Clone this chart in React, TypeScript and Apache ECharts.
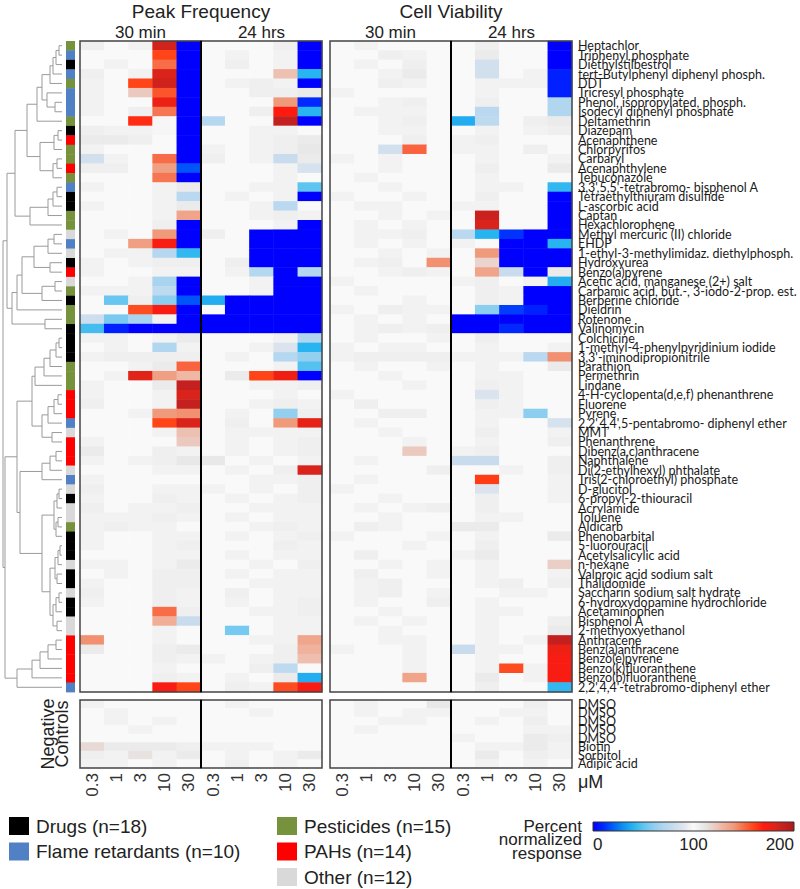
import React, { useEffect, useRef } from 'react';
import * as echarts from 'echarts';

const compounds = [
  'Heptachlor', 'Triphenyl phosphate', 'Diethylstilbestrol', 'tert-Butylphenyl diphenyl phosph.', 'DDT',
  'Tricresyl phosphate', 'Phenol, isopropylated, phosph.', 'Isodecyl diphenyl phosphate', 'Deltamethrin', 'Diazepam',
  'Acenaphthene', 'Chlorpyrifos', 'Carbaryl', 'Acenaphthylene', 'Tebuconazole',
  "3,3',5,5'-tetrabromo- bisphenol A", 'Tetraethylthiuram disulfide', 'L-ascorbic acid', 'Captan', 'Hexachlorophene',
  'Methyl mercuric (II) chloride', 'EHDP', '1-ethyl-3-methylimidaz. diethylphosph.', 'Hydroxyurea', 'Benzo(a)pyrene',
  'Acetic acid, manganese (2+) salt', 'Carbamic acid, but.-, 3-iodo-2-prop. est.', 'Berberine chloride', 'Dieldrin', 'Rotenone',
  'Valinomycin', 'Colchicine', '1-methyl-4-phenylpyridinium iodide', "3,3'-iminodipropionitrile", 'Parathion',
  'Permethrin', 'Lindane', '4-H-cyclopenta(d,e,f) phenanthrene', 'Fluorene', 'Pyrene',
  "2,2',4,4',5-pentabromo- diphenyl ether", 'MMT', 'Phenanthrene', 'Dibenz(a,c)anthracene', 'Naphthalene',
  'Di(2-ethylhexyl) phthalate', 'Tris(2-chloroethyl) phosphate', 'D-glucitol', '6-propyl-2-thiouracil', 'Acrylamide',
  'Toluene', 'Aldicarb', 'Phenobarbital', '5-luorouracil', 'Acetylsalicylic acid',
  'n-hexane', 'Valproic acid sodium salt', 'Thalidomide', 'Saccharin sodium salt hydrate', '6-hydroxydopamine hydrochloride',
  'Acetaminophen', 'Bisphenol A', '2-methyoxyethanol', 'Anthracene', 'Benz(a)anthracene',
  'Benzo(e)pyrene', 'Benzo(k)fluoranthene', 'Benzo(b)fluoranthene', "2,2',4,4'-tetrabromo-diphenyl ether",
];

// D drugs, F flame retardants, P pesticides, A PAHs, O other
const rowCategory = [
  'P', 'F', 'D', 'F', 'P', 'F', 'F', 'F', 'P', 'D',
  'A', 'P', 'P', 'A', 'P', 'F', 'D', 'D', 'P', 'P',
  'O', 'F', 'O', 'D', 'A', 'O', 'P', 'D', 'P', 'P',
  'D', 'D', 'D', 'D', 'P', 'P', 'P', 'A', 'A', 'A',
  'F', 'O', 'A', 'A', 'A', 'O', 'F', 'O', 'D', 'O',
  'O', 'P', 'D', 'D', 'D', 'O', 'D', 'D', 'O', 'D',
  'D', 'O', 'O', 'A', 'A', 'A', 'A', 'A', 'F',
];

const categoryKeys = ['D', 'F', 'P', 'A', 'O'];
const categoryNames = ['Drugs (n=18)', 'Flame retardants (n=10)', 'Pesticides (n=15)', 'PAHs (n=14)', 'Other (n=12)'];
const categoryColors = ['#000000', '#4f81c4', '#76923c', '#ff0000', '#d9d9d9'];

const concentrations = ['0.3', '1', '3', '10', '30'];
const controls = ['DMSO', 'DMSO', 'DMSO', 'DMSO', 'DMSO', 'Biotin', 'Sorbitol', 'Adipic acid'];
const colorbarTicks = [0, 100, 200];

const pf30 = [
  [106, 100, 104, 185, 0], [100, 100, 100, 160, 0], [100, 104, 100, 150, 0], [106, 100, 104, 182, 0], [104, 100, 160, 186, 0],
  [104, 100, 122, 156, 0], [104, 100, 100, 176, 0], [104, 100, 106, 148, 0], [100, 100, 166, 102, 0], [106, 104, 104, 102, 0],
  [108, 108, 106, 100, 0], [104, 100, 100, 100, 0], [84, 104, 100, 150, 0], [106, 106, 100, 138, 18], [100, 100, 100, 148, 0],
  [104, 100, 100, 104, 108], [100, 100, 100, 104, 74], [104, 100, 100, 104, 108], [100, 100, 100, 104, 136], [100, 100, 100, 106, 0],
  [100, 104, 100, 140, 0], [100, 100, 138, 172, 0], [100, 104, 104, 72, 42], [104, 100, 104, 106, 106], [104, 100, 100, 104, 104],
  [100, 100, 104, 68, 0], [104, 104, 104, 76, 0], [100, 52, 106, 60, 18], [100, 100, 158, 172, 0], [82, 56, 68, 104, 0],
  [45, 8, 0, 0, 0], [104, 104, 100, 104, 108], [100, 104, 100, 70, 104], [104, 106, 106, 106, 106], [100, 100, 104, 108, 152],
  [100, 104, 180, 138, 128], [104, 100, 100, 108, 190], [104, 100, 100, 104, 182], [106, 100, 100, 104, 190], [100, 100, 104, 140, 142],
  [100, 100, 100, 160, 182], [100, 100, 100, 104, 125], [104, 100, 100, 100, 122], [108, 100, 100, 106, 104], [104, 100, 104, 106, 110],
  [100, 100, 100, 104, 104], [104, 100, 100, 100, 100], [106, 100, 100, 104, 104], [104, 100, 100, 106, 104], [106, 100, 104, 104, 106],
  [104, 104, 104, 106, 104], [104, 106, 104, 104, 100], [104, 100, 100, 104, 104], [104, 100, 100, 104, 106], [100, 100, 100, 104, 104],
  [104, 104, 100, 104, 108], [100, 104, 100, 106, 106], [104, 100, 100, 106, 106], [106, 100, 100, 106, 104], [104, 100, 100, 106, 104],
  [100, 100, 100, 150, 106], [100, 100, 100, 132, 80], [100, 100, 100, 104, 100], [142, 100, 100, 104, 100], [108, 100, 100, 106, 108],
  [100, 100, 100, 106, 104], [100, 100, 100, 104, 100], [100, 100, 100, 106, 104], [100, 100, 100, 172, 160],
];

const pf24 = [
  [100, 100, 100, 106, 0], [100, 104, 100, 104, 0], [100, 106, 100, 104, 0], [100, 100, 100, 125, 40], [100, 104, 106, 104, 0],
  [100, 100, 106, 106, 108], [100, 100, 100, 140, 10], [100, 100, 106, 170, 40], [72, 100, 100, 190, 0], [100, 100, 104, 104, 100],
  [100, 100, 104, 106, 108], [104, 100, 104, 106, 110], [106, 100, 104, 80, 108], [100, 100, 100, 104, 86], [100, 100, 100, 104, 100],
  [100, 100, 104, 104, 50], [100, 104, 100, 104, 0], [100, 100, 104, 74, 100], [100, 100, 104, 106, 104], [100, 100, 100, 104, 0],
  [106, 100, 0, 0, 0], [100, 100, 0, 0, 0], [100, 100, 0, 0, 0], [100, 106, 0, 0, 0], [100, 104, 72, 0, 72],
  [100, 100, 104, 0, 0], [100, 100, 104, 0, 0], [38, 0, 0, 0, 0], [100, 0, 0, 0, 0], [0, 0, 0, 0, 0],
  [0, 0, 0, 0, 0], [100, 100, 100, 104, 70], [100, 100, 104, 88, 40], [100, 104, 100, 72, 62], [100, 100, 100, 104, 48],
  [100, 108, 160, 175, 0], [100, 100, 104, 104, 106], [100, 100, 100, 104, 100], [100, 100, 104, 106, 104], [100, 104, 100, 62, 106],
  [100, 106, 100, 140, 178], [100, 104, 104, 104, 104], [100, 104, 100, 104, 106], [100, 104, 100, 104, 106], [110, 100, 104, 100, 104],
  [100, 104, 100, 106, 182], [100, 100, 104, 104, 106], [104, 100, 104, 100, 106], [100, 104, 100, 104, 106], [100, 100, 104, 104, 104],
  [100, 104, 100, 104, 104], [100, 100, 104, 106, 104], [100, 104, 100, 104, 106], [100, 100, 100, 106, 104], [100, 104, 100, 104, 104],
  [100, 100, 104, 100, 106], [100, 104, 100, 104, 104], [100, 100, 104, 104, 104], [100, 106, 100, 104, 104], [100, 104, 100, 104, 106],
  [100, 100, 104, 104, 106], [100, 100, 100, 104, 104], [100, 55, 100, 104, 104], [100, 100, 104, 104, 135], [100, 100, 100, 106, 130],
  [104, 100, 104, 106, 126], [100, 100, 106, 76, 100], [100, 104, 100, 108, 38], [100, 106, 104, 158, 172],
];

const cv30 = [
  [100, 104, 100, 100, 100], [100, 100, 106, 104, 100], [100, 104, 100, 106, 100], [100, 100, 104, 108, 100], [100, 100, 106, 104, 100],
  [104, 100, 100, 100, 100], [100, 100, 104, 106, 100], [100, 104, 104, 104, 100], [100, 100, 104, 106, 100], [100, 100, 104, 104, 100],
  [100, 100, 100, 106, 100], [100, 100, 84, 152, 100], [104, 100, 104, 100, 100], [100, 100, 104, 100, 100], [100, 104, 100, 100, 100],
  [100, 100, 104, 100, 100], [104, 100, 100, 104, 100], [100, 104, 104, 100, 100], [100, 100, 104, 100, 104], [100, 104, 100, 104, 100],
  [100, 104, 104, 106, 100], [100, 104, 100, 104, 100], [100, 100, 104, 100, 104], [100, 104, 106, 100, 142], [100, 100, 104, 106, 104],
  [104, 100, 100, 100, 100], [100, 104, 100, 100, 100], [100, 100, 100, 104, 100], [104, 100, 106, 104, 104], [100, 104, 100, 104, 100],
  [100, 104, 106, 104, 106], [100, 104, 100, 100, 104], [104, 100, 104, 104, 100], [104, 106, 106, 106, 106], [100, 104, 100, 100, 104],
  [100, 100, 104, 100, 100], [100, 100, 100, 104, 100], [104, 100, 100, 100, 100], [100, 106, 100, 100, 100], [100, 100, 106, 106, 100],
  [100, 104, 100, 100, 100], [100, 100, 104, 100, 100], [100, 100, 100, 104, 100], [100, 100, 100, 122, 100], [100, 104, 100, 100, 100],
  [100, 100, 100, 100, 106], [100, 104, 100, 100, 100], [104, 100, 100, 100, 100], [100, 100, 104, 100, 100], [100, 104, 100, 104, 106],
  [100, 100, 104, 100, 100], [100, 106, 104, 100, 100], [104, 100, 100, 100, 104], [100, 100, 100, 104, 100], [100, 106, 100, 100, 100],
  [100, 100, 104, 100, 104], [100, 106, 100, 100, 104], [100, 104, 106, 100, 100], [100, 104, 106, 100, 104], [100, 104, 100, 100, 106],
  [100, 100, 104, 100, 100], [100, 104, 100, 104, 100], [100, 100, 104, 100, 100], [100, 100, 104, 104, 100], [104, 100, 100, 104, 100],
  [100, 100, 100, 104, 100], [100, 100, 100, 104, 100], [100, 100, 100, 136, 100], [100, 100, 100, 100, 100],
];

const cv24 = [
  [100, 106, 100, 100, 0], [100, 108, 100, 100, 0], [100, 84, 100, 100, 0], [100, 84, 100, 104, 8], [100, 104, 104, 104, 8],
  [100, 104, 100, 100, 8], [100, 106, 100, 100, 70], [100, 74, 100, 100, 70], [38, 76, 100, 106, 108], [100, 104, 100, 104, 106],
  [104, 106, 100, 100, 100], [104, 104, 100, 106, 100], [100, 104, 100, 100, 104], [100, 106, 100, 100, 108], [100, 104, 100, 100, 100],
  [100, 104, 104, 100, 42], [100, 106, 100, 100, 0], [104, 104, 100, 100, 0], [100, 188, 100, 100, 0], [100, 182, 100, 100, 0],
  [74, 40, 12, 0, 0], [104, 100, 0, 0, 40], [100, 140, 0, 0, 0], [100, 118, 0, 0, 0], [100, 136, 80, 0, 108],
  [104, 106, 100, 104, 38], [100, 106, 104, 0, 0], [100, 106, 104, 0, 0], [100, 60, 14, 8, 0], [0, 0, 0, 0, 0],
  [0, 0, 10, 0, 0], [100, 106, 100, 100, 100], [100, 104, 100, 100, 104], [104, 104, 104, 74, 142], [100, 104, 100, 100, 108],
  [100, 104, 104, 100, 100], [100, 106, 104, 100, 100], [100, 88, 104, 100, 100], [100, 106, 104, 100, 100], [100, 104, 104, 60, 100],
  [100, 104, 100, 100, 86], [100, 106, 100, 100, 104], [100, 104, 100, 100, 106], [104, 106, 100, 100, 100], [80, 80, 100, 100, 106],
  [100, 100, 104, 100, 106], [100, 162, 100, 100, 104], [100, 88, 100, 100, 104], [100, 106, 100, 100, 104], [100, 106, 100, 100, 100],
  [100, 104, 104, 100, 100], [108, 108, 100, 100, 100], [100, 104, 100, 100, 108], [100, 106, 100, 100, 100], [104, 108, 100, 100, 100],
  [100, 104, 100, 100, 120], [100, 104, 100, 100, 104], [100, 104, 106, 100, 106], [100, 100, 104, 104, 100], [100, 104, 100, 100, 100],
  [100, 104, 104, 100, 100], [100, 104, 100, 100, 106], [100, 104, 100, 100, 108], [100, 104, 100, 104, 190], [80, 104, 104, 100, 176],
  [100, 104, 100, 100, 172], [100, 104, 158, 104, 172], [100, 108, 100, 104, 172], [100, 106, 100, 100, 42],
];

const negPf30 = [
  [104, 100, 100, 100, 100], [100, 104, 100, 100, 100], [100, 104, 100, 104, 100], [100, 100, 104, 100, 100],
  [100, 100, 100, 100, 100], [116, 108, 108, 108, 106], [106, 104, 112, 104, 108], [104, 104, 100, 104, 100],
];
const negPf24 = [
  [100, 104, 100, 100, 100], [100, 100, 104, 100, 100], [100, 100, 100, 100, 100], [100, 100, 100, 100, 100],
  [100, 100, 100, 100, 100], [104, 104, 104, 100, 100], [100, 104, 100, 104, 108], [100, 106, 100, 104, 100],
];
const negCv30 = [
  [100, 104, 100, 100, 110], [100, 104, 100, 104, 104], [100, 100, 104, 104, 100], [100, 104, 100, 100, 100],
  [100, 100, 100, 100, 100], [100, 100, 100, 100, 100], [100, 100, 100, 100, 100], [100, 100, 100, 100, 100],
];
const negCv24 = [
  [100, 100, 100, 106, 100], [100, 100, 104, 104, 100], [100, 104, 100, 106, 100], [100, 100, 100, 104, 104],
  [104, 100, 100, 108, 106], [100, 104, 104, 108, 104], [100, 108, 100, 106, 104], [100, 104, 100, 104, 100],
];

// Dendrogram: [mergeHeight, left, right]; leaves are row indices
const dendrogram: any = [59,
  [55,
    [47,
      [35,
        [25, [20, [12, [9, [6, [3, 0, 1], 2], 3], 4], [15, 5, [7, 6, 7]]], 8],
        [22, [8, [4, 9, 10], 11], [9, [5, 12, 13], 14]]],
      [32, [14, [9, [5, 15, 16], 17], 18], 19]],
    [50,
      [45, [40, [28, [14, [8, 20, 21], 22], [12, 23, 24]], [20, [7, 25, 26], 27]], 28],
      [17, 29, 30]]],
  [57,
    [45,
      [30,
        [27, [18, [12, [6, [3, 31, 32], 33], 34], 35], 36],
        [20, [14, [8, [4, 37, 38], 39], 40], [10, 41, 42]]],
      [42,
        [20, [12, [6, 43, 44], 45], 46],
        [20,
          [8, [5, [3, 47, 48], 49], [6, [4, 50, 51], 52]],
          [12, [7, [4, [2, 53, 54], 55], [5, 56, 57]], [9, [6, [3, 58, 59], 60], [5, 61, 62]]]]]],
    [45, [30, [22, [14, [6, 63, 64], 65], 66], 67], 68]]];

const COLOR_STOPS = [
  '#0000ff', '#0028ff', '#0060f8', '#1090f0', '#28b4f0', '#60c4f0', '#8ccef0', '#b0d6f0', '#c8dcee', '#e0e6ee',
  '#f9f9f9', '#e8e8e8', '#eacfc6', '#f0b29e', '#f09a7c', '#f86c48', '#ff4418', '#ff1a10', '#e02418', '#c42020', '#b01818',
];

const TOP = 41;
const H_TOP = 651;
const NEG_TOP = 700;
const H_NEG = 68;
const SUB_W = 121;
const PANEL_LEFTS = [80, 201, 330, 451];
const SANS = '"Liberation Sans", Arial, sans-serif';
const LABEL_FONT = 'Lato, "Open Sans", sans-serif';

function flattenTree(node: any, out: number[][]): { y: number; h: number } {
  if (typeof node === 'number') return { y: node, h: 0 };
  const l = flattenTree(node[1], out);
  const r = flattenTree(node[2], out);
  out.push([node[0], l.y, r.y, l.h, r.h]);
  return { y: (l.y + r.y) / 2, h: node[0] };
}

function buildOption() {
  const grids: any[] = [];
  const xAxes: any[] = [];
  const yAxes: any[] = [];
  const series: any[] = [];
  const topData = [pf30, pf24, cv30, cv24];
  const negData = [negPf30, negPf24, negCv30, negCv24];

  for (let g = 0; g < 8; g++) {
    const isTop = g < 4;
    const p = g % 4;
    grids.push({ left: PANEL_LEFTS[p], top: isTop ? TOP : NEG_TOP, width: SUB_W, height: isTop ? H_TOP : H_NEG });
    xAxes.push({
      type: 'category', gridIndex: g, data: concentrations,
      axisLine: { show: false }, axisTick: { show: false }, splitLine: { show: false },
      axisLabel: isTop ? { show: false } : {
        show: true, interval: 0, rotate: 90, margin: 5, fontSize: 17, fontFamily: SANS, color: '#333',
      },
    });
    const labelled = p === 3;
    yAxes.push({
      type: 'category', gridIndex: g, data: isTop ? compounds : controls, inverse: true, position: 'right',
      axisLine: { show: false }, axisTick: { show: false }, splitLine: { show: false },
      axisLabel: labelled ? {
        show: true, interval: 0, margin: 6, fontSize: 12.5, fontFamily: LABEL_FONT, color: '#1a1a1a',
      } : { show: false },
    });
    const vals = isTop ? topData[p] : negData[p];
    const data: number[][] = [];
    vals.forEach((row, r) => row.forEach((v, c) => data.push([c, r, v])));
    series.push({
      type: 'heatmap', xAxisIndex: g, yAxisIndex: g, data, silent: true,
      emphasis: { disabled: true }, itemStyle: { borderWidth: 0 },
    });
  }

  // category strip
  grids.push({ left: 66, top: TOP, width: 9, height: H_TOP });
  xAxes.push({ type: 'category', gridIndex: 8, data: ['category'], show: false });
  yAxes.push({ type: 'category', gridIndex: 8, data: compounds, inverse: true, show: false });
  series.push({
    type: 'custom', xAxisIndex: 8, yAxisIndex: 8, silent: true,
    data: rowCategory.map((k, r) => [0, r, categoryKeys.indexOf(k)]),
    renderItem: (params: any, api: any) => {
      const pt = api.coord([api.value(0), api.value(1)]);
      const sz = api.size([1, 1]);
      return {
        type: 'rect',
        shape: { x: pt[0] - sz[0] / 2, y: pt[1] - sz[1] / 2, width: sz[0], height: sz[1] + 0.4 },
        style: { fill: categoryColors[api.value(2)] },
      };
    },
  });

  // dendrogram
  const links: number[][] = [];
  flattenTree(dendrogram, links);
  grids.push({ left: 2, top: TOP, width: 60, height: H_TOP });
  xAxes.push({ type: 'value', gridIndex: 9, min: 0, max: 60, inverse: true, show: false });
  yAxes.push({ type: 'value', gridIndex: 9, min: -0.5, max: compounds.length - 0.5, inverse: true, show: false });
  series.push({
    type: 'custom', xAxisIndex: 9, yAxisIndex: 9, silent: true, clip: false,
    encode: { x: [0, 3, 4], y: [1, 2] },
    data: links,
    renderItem: (params: any, api: any) => {
      const h = api.value(0), yl = api.value(1), yr = api.value(2), hl = api.value(3), hr = api.value(4);
      return {
        type: 'polyline',
        shape: { points: [api.coord([hl, yl]), api.coord([h, yl]), api.coord([h, yr]), api.coord([hr, yr])] },
        style: { stroke: '#9a9a9a', lineWidth: 1, fill: 'none' },
      };
    },
  });

  const graphic: any[] = [];
  // panel frames
  for (let g = 0; g < 8; g++) {
    const isTop = g < 4;
    graphic.push({
      type: 'rect', z: 100, silent: true,
      shape: { x: PANEL_LEFTS[g % 4], y: isTop ? TOP : NEG_TOP, width: SUB_W, height: isTop ? H_TOP : H_NEG },
      style: { fill: 'rgba(0,0,0,0)', stroke: '#444', lineWidth: 1.5 },
    });
  }
  [PANEL_LEFTS[1], PANEL_LEFTS[3]].forEach((x) => {
    graphic.push({ type: 'line', z: 101, shape: { x1: x, y1: TOP, x2: x, y2: TOP + H_TOP }, style: { stroke: '#000', lineWidth: 2 } });
    graphic.push({ type: 'line', z: 101, shape: { x1: x, y1: NEG_TOP, x2: x, y2: NEG_TOP + H_NEG }, style: { stroke: '#000', lineWidth: 2 } });
  });

  const txt = (text: string, x: number, y: number, size: number, align = 'center', extra: any = {}) => ({
    type: 'text', x, y, z: 100, silent: true, ...extra,
    style: { text, font: `${size}px ${SANS}`, fill: '#222', align, verticalAlign: 'middle', ...(extra.style || {}) },
  });

  graphic.push(txt('Peak Frequency', PANEL_LEFTS[1], 11, 19));
  graphic.push(txt('Cell Viability', PANEL_LEFTS[3], 11, 19));
  ['30 min', '24 hrs', '30 min', '24 hrs'].forEach((t, i) => {
    graphic.push(txt(t, PANEL_LEFTS[i] + SUB_W / 2, 32, 17));
  });
  graphic.push(txt('\u03bcM', 578, 782, 18, 'left'));
  graphic.push({
    type: 'text', x: 55, y: NEG_TOP + H_NEG / 2, rotation: Math.PI / 2, z: 100, silent: true,
    style: { text: 'Negative\nControls', font: `18px ${SANS}`, fill: '#222', align: 'center', verticalAlign: 'middle', lineHeight: 14 },
  });

  // legend
  const legendPos = [
    [9, 826], [9, 851.5], [277, 826], [277, 851.5], [277, 877],
  ];
  categoryNames.forEach((name, i) => {
    const [x, y] = legendPos[i];
    graphic.push({ type: 'rect', z: 100, shape: { x, y: y - 9, width: 20, height: 18 }, style: { fill: categoryColors[i] } });
    graphic.push(txt(name, x + 27, y, 19, 'left'));
  });

  // colorbar
  const cbX = 593, cbY = 822, cbW = 201, cbH = 9;
  graphic.push({
    type: 'rect', z: 100, shape: { x: cbX, y: cbY, width: cbW, height: cbH },
    style: {
      fill: new echarts.graphic.LinearGradient(0, 0, 1, 0, COLOR_STOPS.map((c, i) => ({ offset: i / (COLOR_STOPS.length - 1), color: c }))),
      stroke: '#333', lineWidth: 1,
    },
  });
  colorbarTicks.forEach((t, i) => {
    const x = cbX + (t / 200) * cbW;
    graphic.push(txt(String(t), x, 844, 17, i === 0 ? 'left' : i === colorbarTicks.length - 1 ? 'right' : 'center'));
  });
  graphic.push({
    type: 'text', x: 582, y: 839.5, z: 100, silent: true,
    style: { text: 'Percent\nnormalized\nresponse', font: `17px ${SANS}`, fill: '#222', align: 'right', verticalAlign: 'middle', lineHeight: 13.5 },
  });

  return {
    animation: false,
    backgroundColor: '#ffffff',
    grid: grids,
    xAxis: xAxes,
    yAxis: yAxes,
    visualMap: {
      type: 'continuous', show: false, min: 0, max: 200, seriesIndex: [0, 1, 2, 3, 4, 5, 6, 7],
      inRange: { color: COLOR_STOPS },
    },
    series,
    graphic,
  };
}

export default function App() {
  const ref = useRef<HTMLDivElement>(null);
  useEffect(() => {
    if (!ref.current) return;
    const chart = echarts.init(ref.current, null, { renderer: 'svg' });
    chart.setOption(buildOption() as any);
    return () => chart.dispose();
  }, []);
  return (
    <div
      ref={ref}
      style={{ position: 'absolute', left: 0, top: 0, width: 800, height: 889, background: '#fff' }}
    />
  );
}
